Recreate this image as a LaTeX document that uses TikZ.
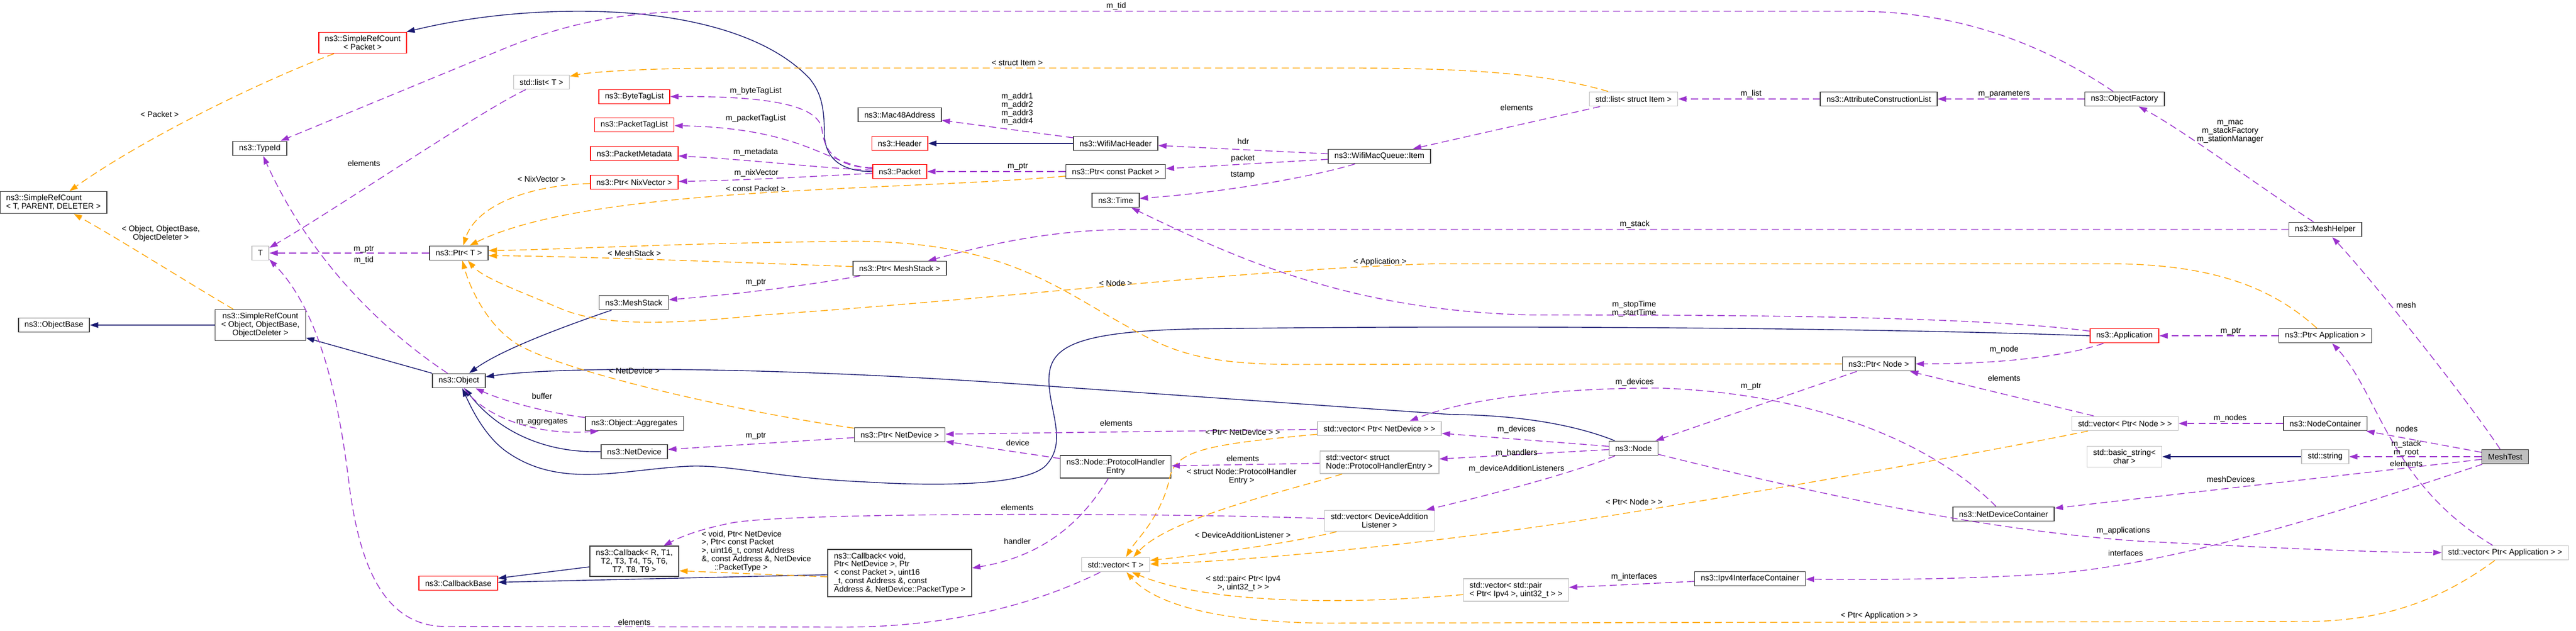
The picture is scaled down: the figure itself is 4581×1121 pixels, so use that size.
\documentclass[tikz,border=0pt]{standalone}
\usepackage{fontspec}
\setmainfont{Liberation Sans}
\usetikzlibrary{arrows.meta}
\definecolor{inhcol}{HTML}{191970}
\definecolor{usecol}{HTML}{9A32CD}
\definecolor{tplcol}{HTML}{FFA500}
\definecolor{bordcol}{HTML}{404040}
\definecolor{undoccol}{HTML}{BFBFBF}
\definecolor{trunccol}{HTML}{FF0000}
\tikzset{>={Stealth[inset=0pt, length=4.2pt, width=2.8pt]}}
\tikzset{
  every node/.style={font=\fontsize{4.05}{4.2}\selectfont},
  cls/.style={draw=bordcol, line width=0.45pt, inner xsep=3.1pt, inner ysep=1.7pt, minimum height=7.2pt, align=center},
  redcls/.style={cls, draw=trunccol},
  greycls/.style={cls, draw=undoccol},
  curcls/.style={cls, fill=undoccol},
  inhr/.style={draw=inhcol, line width=0.4pt, ->},
  memb/.style={draw=usecol, line width=0.4pt, dash pattern=on 3.6pt off 2pt, ->},
  tmpl/.style={draw=tplcol, line width=0.4pt, dash pattern=on 3.6pt off 2pt, ->},
  lbl/.style={inner sep=0pt, align=center}
}

\begin{document}
\begin{tikzpicture}[x=0.01cm, y=-0.01cm]
    \useasboundingbox (0,0) rectangle (4581,1121);
    % classes
    \node (srcpkt) at (645,76) [redcls] {ns3::SimpleRefCount\\< Packet >};
    \node (typeid) at (462,264) [cls] {ns3::TypeId};
    \node (srctpd) at (95,360) [cls, align=left] {ns3::SimpleRefCount\\< T, PARENT, DELETER >};
    \node (tnode) at (463,450) [greycls] {T};
    \node (objbase) at (96,578) [cls] {ns3::ObjectBase};
    \node (srcobj) at (463,578) [cls] {ns3::SimpleRefCount\\< Object, ObjectBase,\\ObjectDeleter >};
    \node (stdlistt) at (963,146) [greycls] {std::list< T >};
    \node (btl) at (1128,172) [redcls] {ns3::ByteTagList};
    \node (ptl) at (1128,222) [redcls] {ns3::PacketTagList};
    \node (pmd) at (1128,273) [redcls] {ns3::PacketMetadata};
    \node (pnix) at (1128,324) [redcls] {ns3::Ptr< NixVector >};
    \node (ptrt) at (816,450) [cls] {ns3::Ptr< T >};
    \node (meshstack) at (1127,538) [cls] {ns3::MeshStack};
    \node (object) at (816,677) [cls] {ns3::Object};
    \node (aggr) at (1128,753) [cls] {ns3::Object::Aggregates};
    \node (netdev) at (1128,803) [cls] {ns3::NetDevice};
    \node (cbr) at (1128,998) [cls] {ns3::Callback< R, T1,\\T2, T3, T4, T5, T6,\\T7, T8, T9 >};
    \node (cbbase) at (815,1037) [redcls] {ns3::CallbackBase};
    \node (mac48) at (1600,204) [cls] {ns3::Mac48Address};
    \node (header) at (1600,255) [redcls] {ns3::Header};
    \node (packet) at (1600,305) [redcls] {ns3::Packet};
    \node (pmeshstack) at (1600,477) [cls] {ns3::Ptr< MeshStack >};
    \node (pnetdev) at (1600,773) [cls] {ns3::Ptr< NetDevice >};
    \node (cbvoid) at (1600,1019) [cls, align=left] {ns3::Callback< void,\\ Ptr< NetDevice >, Ptr\\< const Packet >, uint16\\\_t, const Address \&, const\\ Address \&, NetDevice::PacketType >};
    \node (wmh) at (1984,255) [cls] {ns3::WifiMacHeader};
    \node (pcpkt) at (1984,305) [cls] {ns3::Ptr< const Packet >};
    \node (time) at (1984,356) [cls] {ns3::Time};
    \node (phe) at (1984,830) [cls] {ns3::Node::ProtocolHandler\\Entry};
    \node (vect) at (1984,1004) [greycls] {std::vector< T >};
    \node (wmqi) at (2453,278) [cls] {ns3::WifiMacQueue::Item};
    \node (vpnd) at (2453,762) [greycls] {std::vector< Ptr< NetDevice > >};
    \node (vphe) at (2453,822) [greycls, align=left] {std::vector< struct\\Node::ProtocolHandlerEntry >};
    \node (vdal) at (2453,926) [greycls] {std::vector< DeviceAddition\\Listener >};
    \node (vpair) at (2696,1049) [greycls, align=left] {std::vector< std::pair\\< Ptr< Ipv4 >, uint32\_t > >};
    \node (listitem) at (2905,176) [greycls] {std::list< struct Item >};
    \node (nsnode) at (2905,797) [cls] {ns3::Node};
    \node (attrlist) at (3341,176) [cls] {ns3::AttributeConstructionList};
    \node (pnode) at (3341,647) [cls] {ns3::Ptr< Node >};
    \node (ipv4ic) at (3112,1029) [cls] {ns3::Ipv4InterfaceContainer};
    \node (ndc) at (3563,914) [cls] {ns3::NetDeviceContainer};
    \node (ofac) at (3778,176) [cls] {ns3::ObjectFactory};
    \node (app) at (3778,597) [redcls] {ns3::Application};
    \node (vpnode) at (3779,753) [greycls] {std::vector< Ptr< Node > >};
    \node (bstr) at (3778,812) [greycls] {std::basic\_string<\\char >};
    \node (meshhelper) at (4135,408) [cls] {ns3::MeshHelper};
    \node (papp) at (4135,597) [cls] {ns3::Ptr< Application >};
    \node (nodec) at (4135,753) [cls] {ns3::NodeContainer};
    \node (stdstr) at (4135,812) [greycls] {std::string};
    \node (meshtest) at (4455,812) [curcls] {MeshTest};
    \node (vpapp) at (4455,983) [greycls] {std::vector< Ptr< Application > >};

    % inheritance
    \draw[inhr] (packet.west) .. controls (1500,305) and (1468,285) .. (1466,240) .. controls (1466,190) and (1460,165) .. (1440,140) .. controls (1360,55) and (1200,20) .. (1030,20) .. controls (900,20) and (800,38) .. (srcpkt.14);
    \draw[inhr] (srcobj) -- (objbase);
    \draw[inhr] (object) -- (srcobj);
    \draw[inhr] (meshstack) .. controls (960,595) and (880,630) .. (object);
    \draw[inhr] (netdev.west) .. controls (960,806) and (880,760) .. (object);
    \draw[inhr] (nsnode) .. controls (2800,755) and (2700,738) .. (2580,737) -- (1870,687) .. controls (1400,652) and (1000,650) .. (object);
    \draw[inhr] (app.west) .. controls (3300,582) and (2600,578) .. (2117,585) .. controls (1920,590) and (1872,615) .. (1866,664) .. controls (1860,720) and (1900,780) .. (1863,824) .. controls (1830,870) and (1620,862) .. (1540,857) .. controls (1380,850) and (1300,826) .. (1225,829) .. controls (1110,834) and (1000,870) .. (905,806) .. controls (865,780) and (840,730) .. (object);
    \draw[inhr] (cbr) -- (cbbase);
    \draw[inhr] (cbvoid) -- (cbbase);
    \draw[inhr] (wmh) -- (header);
    \draw[inhr] (stdstr) -- (bstr);

    % template instances
    \draw[tmpl] (srcpkt) .. controls (450,150) and (250,250) .. (srctpd);
    \draw[tmpl] (srcobj) .. controls (330,500) and (220,430) .. (srctpd);
    \draw[tmpl] (pnix) .. controls (930,330) and (845,370) .. (ptrt.60);
    \draw[tmpl] (pcpkt) .. controls (1600,340) and (1050,330) .. (ptrt.35);
    \draw[tmpl] (pmeshstack) .. controls (1300,466) and (1000,455) .. (ptrt.-5);
    \draw[tmpl] (pnode) -- (2300,648) .. controls (2100,648) and (2060,610) .. (1968,560) .. controls (1850,490) and (1750,430) .. (1520,429) .. controls (1200,432) and (1000,444) .. (ptrt.5);
    \draw[tmpl] (papp) .. controls (4050,520) and (3950,469) .. (3750,469) -- (2550,469) .. controls (2200,480) and (1800,530) .. (1357,560) .. controls (1200,576) and (1080,582) .. (1000,550) .. controls (930,520) and (860,495) .. (ptrt.-40);
    \draw[tmpl] (pnetdev) .. controls (1300,730) and (1000,660) .. (920,612) .. controls (865,578) and (835,510) .. (ptrt.-65);
    \draw[tmpl] (listitem) .. controls (2750,130) and (2600,121) .. (2400,121) -- (1300,121) .. controls (1150,121) and (1050,128) .. (stdlistt);
    \draw[tmpl] (cbvoid.183) -- (cbr.-12);
    \draw[tmpl] (vpnd) .. controls (2150,790) and (2090,800) .. (2080,850) .. controls (2065,920) and (2020,960) .. (vect.36);
    \draw[tmpl] (vphe) .. controls (2300,870) and (2080,920) .. (vect.23);
    \draw[tmpl] (vdal) .. controls (2300,965) and (2150,985) .. (vect.7);
    \draw[tmpl] (vpnode) .. controls (3500,810) and (3100,880) .. (2800,927) .. controls (2500,972) and (2200,998) .. (vect.1);
    \draw[tmpl] (vpair) .. controls (2400,1075) and (2150,1075) .. (vect.-25);
    \draw[tmpl] (vpapp) .. controls (4350,1060) and (4250,1105) .. (4100,1105) -- (2350,1108) .. controls (2150,1105) and (2050,1070) .. (vect.-35);

    % members
    \draw[memb] (ofac) .. controls (3650,90) and (3500,20) .. (3300,20) -- (1250,20) .. controls (1100,20) and (1000,45) .. (900,85) -- (typeid.20);
    \draw[memb] (object) .. controls (700,600) and (560,480) .. (typeid);
    \draw[memb] (vect) .. controls (1850,1070) and (1700,1115) .. (1500,1115) -- (790,1114) .. controls (680,1112) and (640,1000) .. (622,870) .. controls (605,730) and (575,560) .. (tnode.-35);
    \draw[memb] (stdlistt) .. controls (850,200) and (600,370) .. (tnode);
    \draw[memb] (ptrt) -- (tnode);
    \draw[memb] (packet.172) .. controls (1490,298) and (1466,270) .. (1462,232) .. controls (1458,185) and (1360,171) .. (btl);
    \draw[memb] (packet.174) .. controls (1470,292) and (1430,228) .. (ptl);
    \draw[memb] (packet.177) .. controls (1470,300) and (1350,285) .. (pmd);
    \draw[memb] (packet.184) .. controls (1470,312) and (1350,320) .. (pnix);
    \draw[memb] (pcpkt) -- (packet);
    \draw[memb] (wmh) -- (mac48);
    \draw[memb] (wmqi) -- (wmh);
    \draw[memb] (wmqi) -- (pcpkt);
    \draw[memb] (wmqi) .. controls (2350,310) and (2200,340) .. (time);
    \draw[memb] (listitem) -- (wmqi);
    \draw[memb] (attrlist) -- (listitem);
    \draw[memb] (ofac) -- (attrlist);
    \draw[memb] (meshhelper) .. controls (4030,340) and (3880,230) .. (ofac);
    \draw[memb] (meshhelper) -- (2000,408) .. controls (1850,410) and (1740,440) .. (pmeshstack.15);
    \draw[memb] (pmeshstack) .. controls (1480,500) and (1350,520) .. (meshstack);
    \draw[memb] (object) .. controls (860,740) and (950,775) .. (aggr.-168);
    \draw[memb] (aggr) .. controls (980,735) and (900,715) .. (object);
    \draw[memb] (pnetdev) -- (netdev);
    \draw[memb] (vpnd) -- (pnetdev);
    \draw[memb] (phe) -- (pnetdev);
    \draw[memb] (phe) .. controls (1940,900) and (1880,985) .. (cbvoid.4);
    \draw[memb] (vphe) -- (phe);
    \draw[memb] (vdal) .. controls (2100,912) and (1400,910) .. (1300,930) .. controls (1240,942) and (1210,955) .. (cbr.28);
    \draw[memb] (nsnode) -- (vpnd);
    \draw[memb] (ndc) .. controls (3450,800) and (3250,700) .. (2950,690) .. controls (2750,690) and (2600,712) .. (vpnd.14);
    \draw[memb] (nsnode) -- (vphe);
    \draw[memb] (nsnode) .. controls (2800,840) and (2650,880) .. (vdal);
    \draw[memb] (pnode) -- (nsnode);
    \draw[memb] (app) .. controls (3700,625) and (3600,647) .. (pnode);
    \draw[memb] (vpnode) -- (pnode);
    \draw[memb] (nodec) -- (vpnode);
    \draw[memb] (papp) -- (app);
    \draw[memb] (nsnode) .. controls (3200,870) and (3500,940) .. (3800,962) .. controls (4000,972) and (4200,982) .. (vpapp);
    \draw[memb] (vpapp) .. controls (4250,860) and (4230,700) .. (papp);
    \draw[memb] (meshtest) .. controls (4380,700) and (4220,500) .. (meshhelper);
    \draw[memb] (meshtest) -- (nodec);
    \draw[memb] (meshtest) -- (stdstr);
    \draw[memb] (meshtest) -- (ndc);
    \draw[memb] (meshtest) .. controls (4250,880) and (3900,1000) .. (3650,1020) .. controls (3500,1030) and (3350,1031) .. (ipv4ic);
    \draw[memb] (ipv4ic) -- (vpair);
    \draw[memb] (app) .. controls (3500,560) and (3000,560) .. (2720,560) .. controls (2400,552) and (2200,460) .. (time);

    % labels
    \node (ltid) at (1985,11) [lbl] {m\_tid};
    \node (lpacket) at (284,203) [lbl] {< Packet >};
    \node (lobjtpl) at (286,415) [lbl] {< Object, ObjectBase,\\ObjectDeleter >};
    \node (lelemt) at (647,290) [lbl] {elements};
    \node (lmptrt) at (647,443) [lbl] {m\_ptr};
    \node (lmtid) at (647,463) [lbl] {m\_tid};
    \node (lnix) at (963,318) [lbl] {< NixVector >};
    \node (lbtl) at (1344,162) [lbl] {m\_byteTagList};
    \node (lptl) at (1344,211) [lbl] {m\_packetTagList};
    \node (lpmd) at (1344,271) [lbl] {m\_metadata};
    \node (lnixv) at (1345,308) [lbl] {m\_nixVector};
    \node (lcpkt) at (1344,335) [lbl] {< const Packet >};
    \node (lmstk) at (1128,450) [lbl] {< MeshStack >};
    \node (lmsptr) at (1344,502) [lbl] {m\_ptr};
    \node (lnd) at (1128,659) [lbl] {< NetDevice >};
    \node (lbuf) at (964,704) [lbl] {buffer};
    \node (lagg) at (964,750) [lbl] {m\_aggregates};
    \node (lndptr) at (1344,775) [lbl] {m\_ptr};
    \node (lcbtpl) at (1345,980) [lbl, align=left] {< void, Ptr< NetDevice\\>, Ptr< const Packet\\>, uint16\_t, const Address\\\&, const Address \&, NetDevice\\\hspace{6.5pt}::PacketType >};
    \node (lvelem) at (1128,1106) [lbl] {elements};
    \node (litem) at (1809,112) [lbl] {< struct Item >};
    \node (laddr) at (1809,194) [lbl] {m\_addr1\\m\_addr2\\m\_addr3\\m\_addr4};
    \node (lpptr) at (1810,296) [lbl] {m\_ptr};
    \node (lhdr) at (2211,251) [lbl] {hdr};
    \node (lpkt) at (2210,282) [lbl] {packet};
    \node (lts) at (2210,311) [lbl] {tstamp};
    \node (lnodetpl) at (1984,503) [lbl] {< Node >};
    \node (lnde) at (1985,752) [lbl] {elements};
    \node (ldev) at (1810,787) [lbl] {device};
    \node (lpndtpl) at (2210,768) [lbl] {< Ptr< NetDevice > >};
    \node (lphee) at (2210,815) [lbl] {elements};
    \node (lphetpl) at (2208,847) [lbl] {< struct Node::ProtocolHandler\\Entry >};
    \node (ldale) at (1809,902) [lbl] {elements};
    \node (lhand) at (1809,962) [lbl] {handler};
    \node (ldaltpl) at (2210,951) [lbl] {< DeviceAdditionListener >};
    \node (lpairtpl) at (2211,1037) [lbl] {< std::pair< Ptr< Ipv4\\>, uint32\_t > >};
    \node (llist) at (2697,191) [lbl] {elements};
    \node (lapptpl) at (2454,466) [lbl] {< Application >};
    \node (lmdev) at (2697,764) [lbl] {m\_devices};
    \node (lmhand) at (2697,806) [lbl] {m\_handlers};
    \node (lmdal) at (2697,834) [lbl] {m\_deviceAdditionListeners};
    \node (lmstack) at (2907,399) [lbl] {m\_stack};
    \node (ltime) at (2906,549) [lbl] {m\_stopTime\\m\_startTime};
    \node (lmdev2) at (2907,680) [lbl] {m\_devices};
    \node (lpnodetpl) at (2906,892) [lbl] {< Ptr< Node > >};
    \node (lmif) at (2906,1026) [lbl] {m\_interfaces};
    \node (lmlist) at (3114,167) [lbl] {m\_list};
    \node (lnptr) at (3114,687) [lbl] {m\_ptr};
    \node (lpapptpl) at (3342,1095) [lbl] {< Ptr< Application > >};
    \node (lmparam) at (3564,167) [lbl] {m\_parameters};
    \node (lmnode) at (3564,622) [lbl] {m\_node};
    \node (lnelem) at (3564,672) [lbl] {elements};
    \node (lmfac) at (3966,234) [lbl] {m\_mac\\m\_stackFactory\\m\_stationManager};
    \node (laptr) at (3967,589) [lbl] {m\_ptr};
    \node (lmnodes) at (3966,744) [lbl] {m\_nodes};
    \node (lmapps) at (3776,944) [lbl] {m\_applications};
    \node (lmdevs) at (3967,852) [lbl] {meshDevices};
    \node (lifs) at (3780,983) [lbl] {interfaces};
    \node (lmesh) at (4279,542) [lbl] {mesh};
    \node (lnodes) at (4280,762) [lbl] {nodes};
    \node (lstack) at (4279,797) [lbl] {m\_stack\\m\_root};
    \node (laelem) at (4279,824) [lbl] {elements};
\end{tikzpicture}
\end{document}
